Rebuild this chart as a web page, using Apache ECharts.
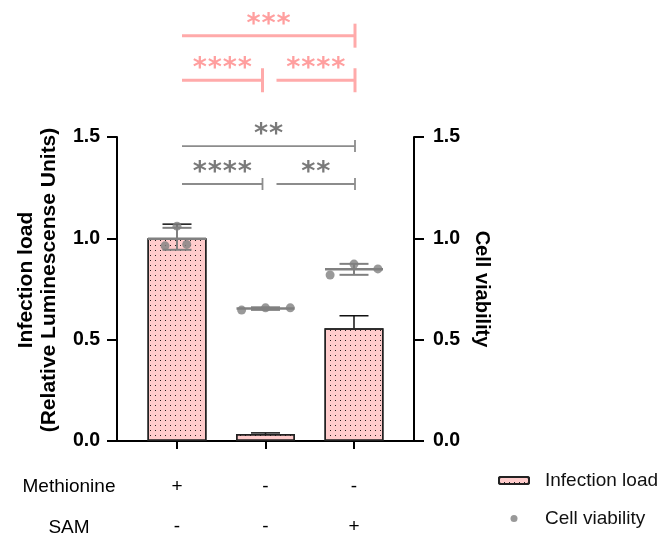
<!DOCTYPE html>
<html><head><meta charset="utf-8">
<script src="https://cdn.jsdelivr.net/npm/echarts@6/dist/echarts.min.js"></script>
<style>html,body{margin:0;padding:0;background:#fff}#c{width:662px;height:533px}</style>
</head><body><div id="c"></div>
<script>
// ---- data ----
const groupPos = [0, 1, 2];
const methionine = ['+', '-', '-'];
const sam = ['-', '-', '+'];
const rowHeaders = ['Methionine', 'SAM'];
const infectionMean = [1.0, 0.035, 0.556];
const infectionSD = [0.07, 0.005, 0.062];
const viabilityReplicates = [[0.963, 1.06, 0.97], [0.646, 0.657, 0.657], [0.819, 0.873, 0.849]];
const viabilityJitter = [[-0.135, 0, 0.11], [-0.27, 0, 0.28], [-0.27, 0, 0.27]];
const yTicks = [0, 0.5, 1.0, 1.5];
const infectionComparisons = [[0, 2, 2.0], [0, 1, 1.78], [1, 2, 1.78]];
const infectionStars = ['***', '****', '****'];
const viabilityComparisons = [[0, 2, 1.455], [0, 1, 1.268], [1, 2, 1.268]];
const viabilityStars = ['**', '****', '**'];

// ---- derived ----
const viabilityMean = viabilityReplicates.map(r => r.reduce((s, v) => s + v, 0) / r.length);
const viabilitySD = viabilityReplicates.map((r, i) => {
  const m = viabilityMean[i];
  return Math.sqrt(r.reduce((s, v) => s + (v - m) * (v - m), 0) / (r.length - 1));
});
const scatterData = [];
viabilityReplicates.forEach((r, i) => r.forEach((v, j) => scatterData.push([groupPos[i] + viabilityJitter[i][j], v])));

const FONT = 'Liberation Sans, Arial, sans-serif';
const PINK = '#ffcccc';
const SIG_PINK = '#ffaaaa';
const GRAY = '#808080';

function bracketSeries(comps, stars, lineColor, textColor, lw, capHalf) {
  return {
    type: 'custom', xAxisIndex: 0, yAxisIndex: 0, silent: true, z: 6, clip: false,
    data: comps,
    renderItem(params, api) {
      const a = api.value(0), b = api.value(1), lvl = api.value(2);
      const pa = api.coord([a, lvl]), pb = api.coord([b, lvl]);
      const x1 = pa[0] + (a === 1 ? 11 : 5);
      const x2 = pb[0] + (b === 1 ? -3 : 1);
      const y = pa[1];
      const s = stars[params.dataIndex];
      const mid = (x1 + x2) / 2;
      const children = [
        {type: 'line', shape: {x1: x1, y1: y, x2: x2, y2: y}, style: {stroke: lineColor, lineWidth: lw}},
        {type: 'line', shape: {x1: x2, y1: y - capHalf, x2: x2, y2: y + capHalf}, style: {stroke: lineColor, lineWidth: lw}}
      ];
      for (let k = 0; k < s.length; k++) {
        children.push({type: 'text', x: mid + (k - (s.length - 1) / 2) * 15, y: y - 11,
          style: {text: '*', fill: textColor, font: 'bold 27px DejaVu Sans', align: 'center', verticalAlign: 'middle'}});
      }
      return {type: 'group', children: children};
    }
  };
}

const chart = echarts.init(document.getElementById('c'), null, {renderer: 'canvas'});
chart.setOption({
  animation: false,
  backgroundColor: '#fff',
  grid: {left: 117, right: 248, top: 137, bottom: 92, containLabel: false, outerBoundsMode: 'none'},
  xAxis: {
    type: 'value', min: -0.678, max: 2.678,
    splitLine: {show: false},
    axisLine: {show: true, onZero: false, lineStyle: {color: '#000', width: 2}},
    axisTick: {show: true, customValues: groupPos, length: 8, lineStyle: {color: '#000', width: 2}},
    axisLabel: {show: true, customValues: groupPos, margin: 26, color: '#000', fontFamily: FONT, fontSize: 19, lineHeight: 40,
      formatter: v => methionine[Math.round(v)] + '\n' + sam[Math.round(v)]}
  },
  yAxis: [
    {type: 'value', min: 0, max: 1.5, interval: 0.5, position: 'left',
     name: 'Infection load\n(Relative Luminescense Units)', nameLocation: 'middle', nameGap: 56, nameRotate: 90,
     nameTextStyle: {fontFamily: FONT, fontSize: 21, fontWeight: 'bold', color: '#000', lineHeight: 23, padding: [0, 0, 0, 18]},
     splitLine: {show: false},
     axisLine: {show: true, onZero: false, lineStyle: {color: '#000', width: 2}},
     axisTick: {show: true, length: 10, lineStyle: {color: '#000', width: 2}},
     axisLabel: {margin: 17, color: '#000', fontFamily: FONT, fontSize: 19.5, fontWeight: 'bold', formatter: v => v.toFixed(1)}},
    {type: 'value', min: 0, max: 1.5, interval: 0.5, position: 'right',
     name: 'Cell viability', nameLocation: 'middle', nameGap: 58, nameRotate: -90,
     nameTextStyle: {fontFamily: FONT, fontSize: 20, fontWeight: 'bold', color: '#000'},
     splitLine: {show: false},
     axisLine: {show: true, onZero: false, lineStyle: {color: '#000', width: 2}},
     axisTick: {show: true, length: 10, lineStyle: {color: '#000', width: 2}},
     axisLabel: {margin: 19, color: '#000', fontFamily: FONT, fontSize: 19.5, fontWeight: 'bold', formatter: v => v.toFixed(1)}}
  ],
  legend: {
    data: ['Infection load', 'Cell viability'], orient: 'vertical', left: 498, top: 471, padding: 0,
    itemWidth: 30, itemHeight: 7, itemGap: 19,
    textStyle: {fontFamily: FONT, fontSize: 19, color: '#111', padding: [0, 0, 0, 11]}
  },
  graphic: rowHeaders.map((t, i) => ({
    type: 'text', x: 69, y: 487 + i * 41,
    style: {text: t, font: '19px Liberation Sans', fill: '#000', align: 'center', verticalAlign: 'middle'}
  })),
  series: [
    {name: 'Infection load', type: 'bar', xAxisIndex: 0, yAxisIndex: 0, barWidth: 59, z: 2,
     data: groupPos.map((x, i) => [x, infectionMean[i]]),
     itemStyle: {color: PINK, borderColor: '#222', borderWidth: 1.5,
       decal: {symbol: 'rect', symbolSize: 1, dashArrayX: [1, 4], dashArrayY: [1, 4], color: 'rgba(0,0,0,0.85)', rotation: 0}}},
    {type: 'custom', xAxisIndex: 0, yAxisIndex: 0, silent: true, z: 3,
     data: groupPos.map((x, i) => [x, infectionMean[i], infectionSD[i]]),
     renderItem(params, api) {
       const x = api.value(0), m = api.value(1), sd = api.value(2);
       const p0 = api.coord([x, m]), p1 = api.coord([x, m + sd]);
       const st = {stroke: '#111', lineWidth: 1.5};
       return {type: 'group', children: [
         {type: 'line', shape: {x1: p0[0], y1: p0[1], x2: p1[0], y2: p1[1]}, style: st},
         {type: 'line', shape: {x1: p1[0] - 14.5, y1: p1[1], x2: p1[0] + 14.5, y2: p1[1]}, style: st}
       ]};
     }},
    {type: 'custom', xAxisIndex: 0, yAxisIndex: 1, silent: true, z: 4,
     data: groupPos.map((x, i) => [x, viabilityMean[i], viabilitySD[i]]),
     renderItem(params, api) {
       const x = api.value(0), m = api.value(1), sd = api.value(2);
       const pm = api.coord([x, m]), pt = api.coord([x, m + sd]), pb = api.coord([x, m - sd]);
       const st = {stroke: GRAY, lineWidth: 2};
       return {type: 'group', children: [
         {type: 'line', shape: {x1: pt[0], y1: pt[1], x2: pb[0], y2: pb[1]}, style: st},
         {type: 'line', shape: {x1: pt[0] - 14.5, y1: pt[1], x2: pt[0] + 14.5, y2: pt[1]}, style: st},
         {type: 'line', shape: {x1: pb[0] - 14.5, y1: pb[1], x2: pb[0] + 14.5, y2: pb[1]}, style: st},
         {type: 'line', shape: {x1: pm[0] - 29, y1: pm[1], x2: pm[0] + 29, y2: pm[1]}, style: {stroke: GRAY, lineWidth: 2.5}}
       ]};
     }},
    {name: 'Cell viability', type: 'scatter', xAxisIndex: 0, yAxisIndex: 1, z: 5,
     symbol: 'circle', symbolSize: 9, data: scatterData, itemStyle: {color: GRAY}},
    bracketSeries(infectionComparisons, infectionStars, SIG_PINK, '#ff9f9f', 3, 12),
    bracketSeries(viabilityComparisons, viabilityStars, '#8c8c8c', '#7a7a7a', 1.8, 6)
  ]
});
</script></body></html>
